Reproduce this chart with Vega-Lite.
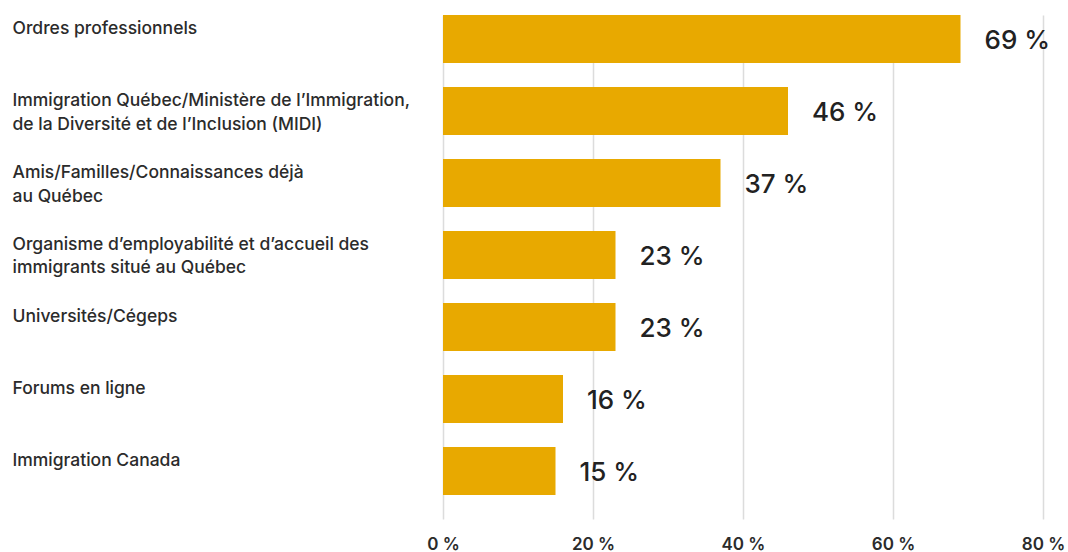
{
  "$schema": "https://vega.github.io/schema/vega-lite/v6.json",
  "width": 600,
  "height": 504,
  "autosize": {"type": "none"},
  "padding": {"left": 443, "top": 15, "right": 25, "bottom": 33},
  "background": "#ffffff",
  "config": {"view": {"stroke": null}, "font": "Inter"},
  "data": {
    "values": [
      {"source": "Ordres professionnels", "pct": 69, "label": "69 %"},
      {"source": "Immigration Québec/Ministère de l’Immigration,|de la Diversité et de l’Inclusion (MIDI)", "pct": 46, "label": "46 %"},
      {"source": "Amis/Familles/Connaissances déjà|au Québec", "pct": 37, "label": "37 %"},
      {"source": "Organisme d’employabilité et d’accueil des|immigrants situé au Québec", "pct": 23, "label": "23 %"},
      {"source": "Universités/Cégeps", "pct": 23, "label": "23 %"},
      {"source": "Forums en ligne", "pct": 16, "label": "16 %"},
      {"source": "Immigration Canada", "pct": 15, "label": "15 %"}
    ]
  },
  "encoding": {
    "y": {
      "field": "source",
      "type": "nominal",
      "sort": null,
      "scale": {"paddingInner": 0.3333, "paddingOuter": 0.16667, "align": 0},
      "axis": {
        "title": null,
        "ticks": false,
        "domain": false,
        "grid": false,
        "labelAlign": "left",
        "labelBaseline": "top",
        "labelPadding": 431,
        "labelOffset": -19,
        "labelLimit": 430,
        "labelFont": "Inter",
        "labelFontSize": 17.5,
        "labelFontWeight": 500,
        "labelColor": "#2b2b2b",
        "labelLineHeight": 23.5,
        "labelExpr": "split(datum.label, '|')"
      }
    },
    "x": {
      "field": "pct",
      "type": "quantitative",
      "scale": {"domain": [0, 80], "nice": false},
      "axis": {
        "title": null,
        "values": [0, 20, 40, 60, 80],
        "ticks": false,
        "domain": false,
        "grid": true,
        "gridColor": "#dcdcdc",
        "gridWidth": 1.5,
        "labelFlush": false,
        "labelAlign": "center",
        "labelExpr": "datum.value + ' %'",
        "labelFont": "Inter",
        "labelFontSize": 17,
        "labelFontWeight": 600,
        "labelColor": "#2b2b2b",
        "labelPadding": 17
      }
    }
  },
  "layer": [
    {"mark": {"type": "bar", "color": "#E8A900"}},
    {
      "mark": {"type": "text", "align": "left", "baseline": "middle", "dx": 24, "dy": 2, "font": "Inter", "fontSize": 26, "fontWeight": 500, "color": "#222222"},
      "encoding": {"text": {"field": "label", "type": "nominal"}}
    }
  ]
}
